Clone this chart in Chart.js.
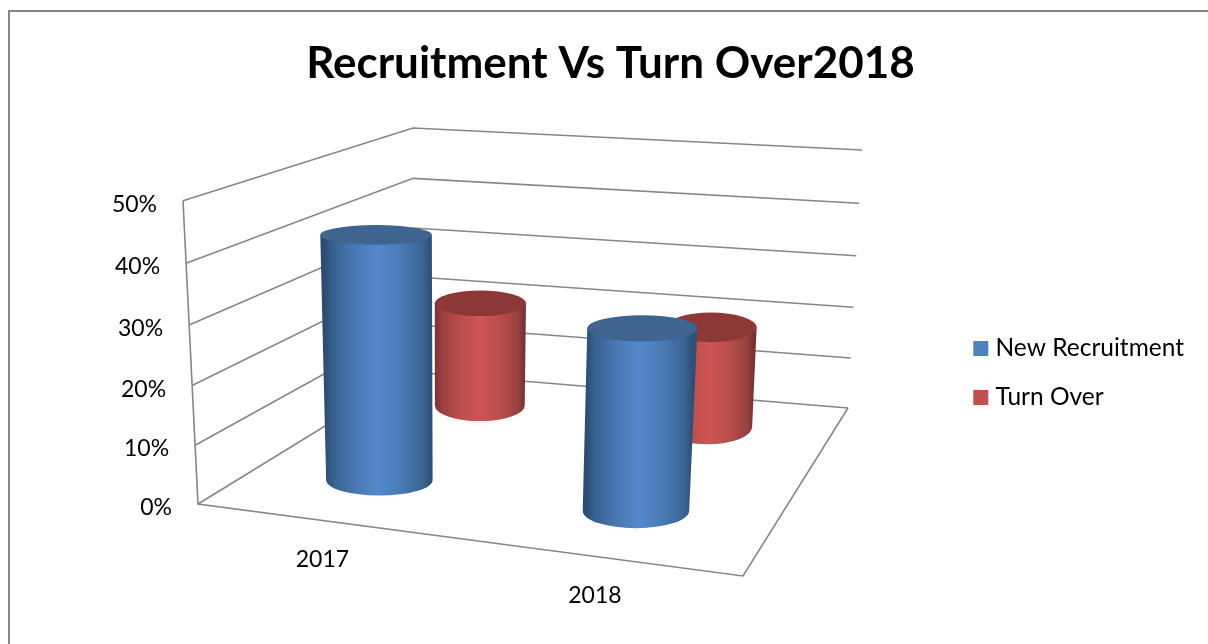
<!DOCTYPE html>
<html lang="en">
<head>
    <meta charset="UTF-8">
    <title>Recruitment Vs Turn Over2018</title>
    <script src="https://cdn.jsdelivr.net/npm/chart.js"></script>
    <style>
        html, body { margin: 0; background: #fff; overflow: hidden; }
        #frame { position: absolute; left: 8px; top: 10px; right: 0; bottom: 0; border-left: 2px solid #868686; border-top: 2px solid #868686; }
        #wrap { position: absolute; left: 0; top: 0; width: 1208px; height: 644px; }
    </style>
</head>
<body>
    <div id="frame"></div>
    <div id="wrap"><canvas id="chart"></canvas></div>
    <script>
        const categories = ["2017", "2018"];
        const newRecruitment = [42.5, 31];
        const turnOver = [20.3, 19.2];
        const seriesNames = ["New Recruitment", "Turn Over"];
        const axisMax = 50;
        const axisStep = 10;

        // the 3D box as it appears on the page: [x, y] of floor and top corners
        const box = {
            floor: { fl: [198, 504], fr: [743, 576], bl: [413, 372], br: [848, 408] },
            top: { fl: [183, 200.7], fr: [763, 254], bl: [413, 128], br: [862, 150] }
        };
        const seriesDepth = [0.29, 0.82];   // position of each series from front to back wall
        const depthRadius = 0.11;
        const categoryShift = -0.018;

        const shades = {
            "#4F81BD": { top: "#3E648F", stops: ["#2C4C72", "#37608F", "#4A7AB5", "#5488CB", "#4A7CB8", "#3A6594", "#2F4F75"] },
            "#C0504D": { top: "#8C3836", stops: ["#7A3432", "#9A4240", "#BC4F4C", "#CD5552", "#BC4F4C", "#994241", "#743130"] }
        };
        const stopAt = [0, 0.08, 0.3, 0.5, 0.7, 0.92, 1];

        function mix(a, b, t) {
            return [a[0] + (b[0] - a[0]) * t, a[1] + (b[1] - a[1]) * t];
        }

        // u: along the categories, d: towards the back wall, h: 0 floor .. 1 top of axis
        function project(u, d, h) {
            const hh = h * (1 - 0.04 * (1 - h));
            const low = mix(mix(box.floor.fl, box.floor.fr, u), mix(box.floor.bl, box.floor.br, u), d);
            const high = mix(mix(box.top.fl, box.top.fr, u), mix(box.top.bl, box.top.br, u), d);
            return mix(low, high, hh);
        }

        class CylinderController extends Chart.BarController {
            static id = "cylinder";
            draw() {
                const ctx = this.chart.ctx;
                const meta = this.getMeta();
                const xs = meta.iScale, ys = meta.vScale;
                const d = seriesDepth[this.index];
                const shade = shades[this.getDataset().backgroundColor];
                meta.data.forEach(bar => {
                    const u = (bar.x - xs.left) / xs.width + categoryShift;
                    const r = bar.width / 2 / xs.width;
                    const h = (ys.bottom - bar.y) / ys.height;
                    cylinder(ctx, u, d, r, h, shade);
                });
            }
        }
        Chart.register(CylinderController);

        function cylinder(ctx, u, d, r, h, shade) {
            const ring = lvl => {
                const c = project(u, d, lvl);
                const rx = (project(u + r, d, lvl)[0] - project(u - r, d, lvl)[0]) / 2;
                const ry = Math.abs(project(u, d + depthRadius, lvl)[1] - project(u, d - depthRadius, lvl)[1]) / 2;
                return { x: c[0], y: c[1], rx, ry };
            };
            const b = ring(0), t = ring(h);
            const grad = ctx.createLinearGradient((b.x + t.x) / 2 - b.rx, 0, (b.x + t.x) / 2 + b.rx, 0);
            shade.stops.forEach((c, i) => grad.addColorStop(stopAt[i], c));
            ctx.save();
            ctx.fillStyle = grad;
            ctx.beginPath();
            ctx.moveTo(t.x - t.rx, t.y);
            ctx.lineTo(b.x - b.rx, b.y);
            ctx.ellipse(b.x, b.y, b.rx, b.ry, 0, Math.PI, 0, true);
            ctx.lineTo(t.x + t.rx, t.y);
            ctx.closePath();
            ctx.fill();
            ctx.fillStyle = shade.top;
            ctx.beginPath();
            ctx.ellipse(t.x, t.y, t.rx, t.ry, 0, 0, Math.PI * 2);
            ctx.fill();
            ctx.restore();
        }

        const frame3d = {
            id: "frame3d",
            afterLayout(chart) {
                // legend is centred on the whole canvas, the reference has it lower
                const legend = chart.legend;
                legend.top += 51;
                legend.bottom += 51;
            },
            beforeDatasetsDraw(chart) {
                const { ctx, scales: { x, y } } = chart;
                const seg = pts => {
                    ctx.beginPath();
                    pts.forEach((p, i) => i ? ctx.lineTo(p[0], p[1]) : ctx.moveTo(p[0], p[1]));
                    ctx.stroke();
                };
                ctx.save();
                ctx.strokeStyle = "#868686";
                ctx.lineWidth = 1.6;
                y.ticks.forEach(tick => {
                    const h = (y.bottom - y.getPixelForValue(tick.value)) / y.height;
                    seg([project(0, 0, h), project(0, 1, h), project(1, 1, h)]);
                });
                seg([project(0, 0, 1), project(0, 0, 0), project(1, 0, 0), project(1, 1, 0)]);

                ctx.fillStyle = "#000";
                ctx.font = "23px Lato";
                ctx.textBaseline = "middle";
                ctx.textAlign = "right";
                y.ticks.forEach(tick => {
                    const h = (y.bottom - y.getPixelForValue(tick.value)) / y.height;
                    const p = project(0, 0, h);
                    ctx.fillText(tick.label, p[0] - 26, p[1] + 3.5);
                });
                ctx.textAlign = "center";
                x.ticks.forEach((tick, i) => {
                    const u = (x.getPixelForTick(i) - x.left) / x.width + categoryShift;
                    const p = project(u, 0, 0);
                    ctx.fillText(tick.label, p[0] - 2, p[1] + 39);
                });
                ctx.restore();
            }
        };

        Chart.defaults.font.family = "Lato";
        Chart.defaults.color = "#000";

        new Chart(document.getElementById("chart"), {
            type: "cylinder",
            data: {
                labels: categories,
                datasets: [
                    { label: seriesNames[0], data: newRecruitment, backgroundColor: "#4F81BD", grouped: false, barPercentage: 0.415, categoryPercentage: 1, clip: false },
                    { label: seriesNames[1], data: turnOver, backgroundColor: "#C0504D", grouped: false, barPercentage: 0.395, categoryPercentage: 1, clip: false }
                ]
            },
            plugins: [frame3d],
            options: {
                responsive: true,
                maintainAspectRatio: false,
                animation: false,
                layout: { padding: { left: 27, right: 14 } },
                scales: {
                    x: {
                        grid: { display: false },
                        border: { display: false },
                        ticks: { display: false },
                        afterFit: s => { s.height = 140; }
                    },
                    y: {
                        min: 0,
                        max: axisMax,
                        grid: { display: false },
                        border: { display: false },
                        ticks: { display: false, stepSize: axisStep, callback: v => v + "%" },
                        afterFit: s => { s.width = 171; }
                    }
                },
                plugins: {
                    title: {
                        display: true,
                        text: "Recruitment Vs Turn Over2018",
                        font: { size: 44, weight: "bold", lineHeight: 1 },
                        padding: { top: 42, bottom: 114.7 }
                    },
                    legend: {
                        position: "right",
                        labels: {
                            font: { size: 24.5 },
                            padding: 24.5,
                            boxWidth: 5,
                            boxHeight: 5,
                            generateLabels: chart => chart.data.datasets.map((ds, i) => ({
                                text: ds.label,
                                fillStyle: ds.backgroundColor,
                                strokeStyle: ds.backgroundColor,
                                lineWidth: 10,
                                datasetIndex: i
                            }))
                        }
                    },
                    tooltip: { enabled: false }
                }
            }
        });
    </script>
</body>
</html>
